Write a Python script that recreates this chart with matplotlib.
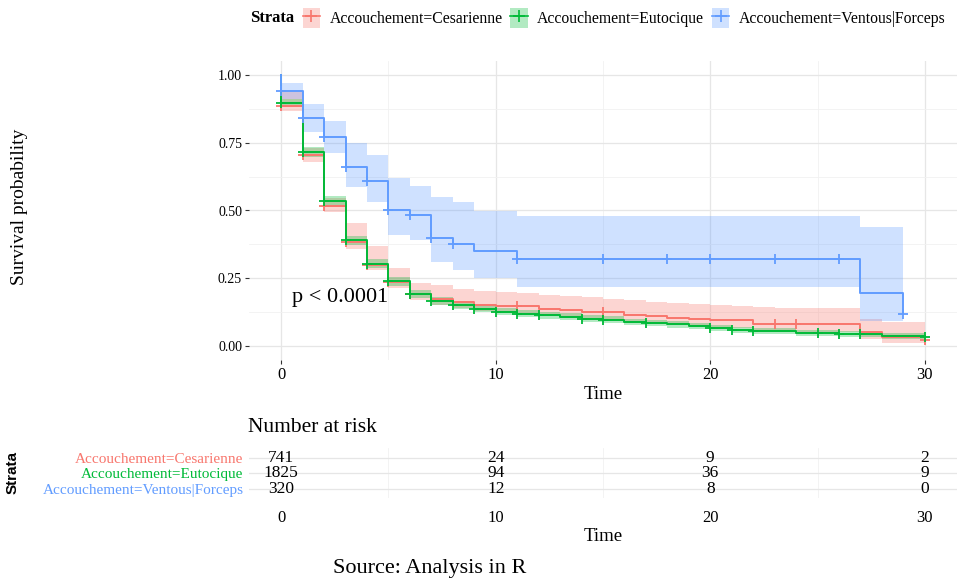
import numpy as np
import matplotlib.pyplot as plt
from matplotlib.patches import Patch
from matplotlib.lines import Line2D

plt.rcParams['font.family'] = ['Liberation Serif', 'DejaVu Serif']

# strata names and colours (ggplot default hue)
strata = ['Accouchement=Cesarienne', 'Accouchement=Eutocique', 'Accouchement=Ventous|Forceps']
colors = ['#F8766D', '#00BA38', '#619CFF']

# Cesarienne / Eutocique : step times 0..30
t_ce = list(range(0, 31))
surv_ce = [0.885, 0.705, 0.515, 0.385, 0.298, 0.238, 0.192, 0.174, 0.162, 0.152, 0.148,
           0.147, 0.137, 0.134, 0.128, 0.126, 0.115, 0.111, 0.106, 0.100, 0.097, 0.096,
           0.084, 0.084, 0.084, 0.084, 0.084, 0.053, 0.034, 0.034, 0.025]
lo_ce = [0.865, 0.680, 0.495, 0.360, 0.280, 0.215, 0.170, 0.152, 0.140, 0.130, 0.125,
         0.122, 0.112, 0.108, 0.100, 0.098, 0.088, 0.084, 0.079, 0.073, 0.069, 0.067,
         0.055, 0.054, 0.053, 0.053, 0.052, 0.027, 0.014, 0.014, 0.008]
hi_ce = [0.935, 0.730, 0.545, 0.455, 0.370, 0.290, 0.235, 0.225, 0.210, 0.205, 0.200,
         0.195, 0.190, 0.185, 0.180, 0.175, 0.170, 0.165, 0.160, 0.155, 0.152, 0.150,
         0.145, 0.140, 0.140, 0.140, 0.140, 0.100, 0.090, 0.090, 0.085]
cens_ce = [0, 1, 2, 3, 4, 5, 6, 11, 15, 23, 24, 30]

t_eu = list(range(0, 31))
surv_eu = [0.895, 0.715, 0.535, 0.390, 0.305, 0.240, 0.192, 0.168, 0.151, 0.139, 0.127,
           0.120, 0.114, 0.110, 0.102, 0.098, 0.089, 0.086, 0.081, 0.075, 0.066, 0.061,
           0.058, 0.055, 0.051, 0.048, 0.046, 0.044, 0.038, 0.037, 0.035]
lo_eu = [0.880, 0.697, 0.516, 0.372, 0.288, 0.224, 0.178, 0.154, 0.138, 0.126, 0.114,
         0.107, 0.101, 0.097, 0.089, 0.085, 0.077, 0.074, 0.069, 0.063, 0.055, 0.050,
         0.047, 0.044, 0.040, 0.037, 0.035, 0.033, 0.027, 0.026, 0.024]
hi_eu = [0.910, 0.733, 0.554, 0.408, 0.322, 0.256, 0.206, 0.182, 0.164, 0.152, 0.140,
         0.133, 0.127, 0.123, 0.115, 0.111, 0.101, 0.098, 0.093, 0.087, 0.077, 0.072,
         0.069, 0.066, 0.062, 0.059, 0.057, 0.055, 0.049, 0.048, 0.046]
cens_eu = [0, 1, 2, 3, 4, 5, 6, 7, 8, 9, 10, 11, 12, 14, 15, 17, 20, 21, 22, 25, 26, 27, 30]

# Ventous|Forceps
t_vf = [0, 1, 2, 3, 4, 5, 6, 7, 8, 9, 11, 27, 29]
surv_vf = [0.94, 0.84, 0.77, 0.66, 0.61, 0.50, 0.485, 0.40, 0.375, 0.35, 0.32, 0.195, 0.12]
lo_vf = [0.91, 0.79, 0.71, 0.585, 0.53, 0.41, 0.39, 0.31, 0.28, 0.25, 0.22, 0.095, 0.095]
hi_vf = [0.97, 0.89, 0.83, 0.75, 0.705, 0.62, 0.59, 0.55, 0.53, 0.50, 0.48, 0.44, 0.44]
cens_vf = [0, 1, 2, 3, 4, 5, 6, 7, 8, 11, 15, 18, 20, 23, 26, 29]

# number at risk
risk_times = [0, 10, 20, 30]
risk_ce = [741, 24, 9, 2]
risk_eu = [1825, 94, 36, 9]
risk_vf = [320, 12, 8, 0]

curves = [(t_ce, surv_ce, lo_ce, hi_ce, cens_ce),
          (t_eu, surv_eu, lo_eu, hi_eu, cens_eu),
          (t_vf, surv_vf, lo_vf, hi_vf, cens_vf)]

fig = plt.figure(figsize=(9.6, 5.82), dpi=100)

ax = fig.add_axes([249/960, 1-360/582, 708/960, 299/582])
for (t, s, lo, hi, cens), col in zip(curves, colors):
    ax.fill_between(t, lo, hi, step='post', color=col, alpha=0.3, linewidth=0)
for (t, s, lo, hi, cens), col in zip(curves, colors):
    xs = [0] + t
    ys = [1.0] + s
    ax.step(xs, ys, where='post', color=col, lw=1.4)
    cy = [s[max(i for i, tt in enumerate(t) if tt <= c)] for c in cens]
    ax.plot(cens, cy, linestyle='none', marker='+', ms=6.5, mew=1.3, color=col)

ax.text(0.5, 0.18, 'p < 0.0001', fontsize=16, ha='left', va='center')

ax.set_xlim(-1.5, 31.5)
ax.set_ylim(-0.05, 1.05)
ax.set_xticks([0, 10, 20, 30])
ax.set_xticks([5, 15, 25], minor=True)
ax.set_yticks([0, 0.25, 0.5, 0.75, 1.0])
ax.set_yticks([0.125, 0.375, 0.625, 0.875], minor=True)
ax.set_yticklabels(['0.00', '0.25', '0.50', '0.75', '1.00'])
ax.grid(which='major', color='#e6e6e6', lw=0.9)
ax.grid(which='minor', color='#f1f1f1', lw=0.6)
ax.set_axisbelow(True)
for sp in ax.spines.values():
    sp.set_visible(False)
ax.tick_params(which='major', length=3, color='#333333', labelsize=10, pad=2)
ax.tick_params(axis='x', labelsize=12)
ax.tick_params(which='minor', length=0)
ax.set_xlabel('Time', fontsize=13.5, labelpad=2)
fig.text(20/960, 1-207/582, 'Survival probability', rotation=90, fontsize=14,
         ha='center', va='center')

# legend
handles = [(Patch(facecolor=c, alpha=0.3, edgecolor='none'),
            Line2D([], [], color=c, marker='+', ms=9, mew=1.2, lw=1.2)) for c in colors]
fig.legend(handles, strata, ncol=3, loc='center', bbox_to_anchor=(624/960, 1-18/582),
           frameon=False, fontsize=11.3, handlelength=1.1, handleheight=1.6,
           handletextpad=0.6, columnspacing=0.5)
fig.text(250/960, 1-18/582, 'Strata', fontsize=12, fontweight='bold', ha='left', va='center')

# risk table
rax = fig.add_axes([249/960, 1-498/582, 708/960, 49.6/582])
for row, vals in zip([3, 2, 1], [risk_ce, risk_eu, risk_vf]):
    for tt, v in zip(risk_times, vals):
        rax.text(tt, row, str(v), ha='center', va='center', fontsize=12.5)
rax.set_xlim(-1.5, 31.5)
rax.set_ylim(0.4, 3.6)
rax.set_xticks(risk_times)
rax.set_xticks([5, 15, 25], minor=True)
rax.set_yticks([3, 2, 1])
rax.set_yticklabels(strata, fontsize=11)
for lab, c in zip(rax.get_yticklabels(), colors):
    lab.set_color(c)
rax.grid(which='major', axis='y', color='#e6e6e6', lw=0.9)
rax.grid(which='minor', axis='x', color='#f1f1f1', lw=0.6)
rax.set_axisbelow(True)
for sp in rax.spines.values():
    sp.set_visible(False)
rax.tick_params(which='both', length=0, pad=4)
rax.tick_params(axis='x', labelsize=12, pad=9)
rax.set_xlabel('Time', fontsize=13.5, labelpad=1)
fig.text(248/960, 1-428/582, 'Number at risk', fontsize=15.5, ha='left', va='center')
fig.text(13/960, 1-472/582, 'Strata', rotation=90, fontsize=11, fontweight='bold',
         family='Liberation Sans', ha='center', va='center')

fig.text(430/960, 1-568/582, 'Source: Analysis in R', fontsize=16, ha='center', va='center')

fig.savefig('out.png', dpi=100)
